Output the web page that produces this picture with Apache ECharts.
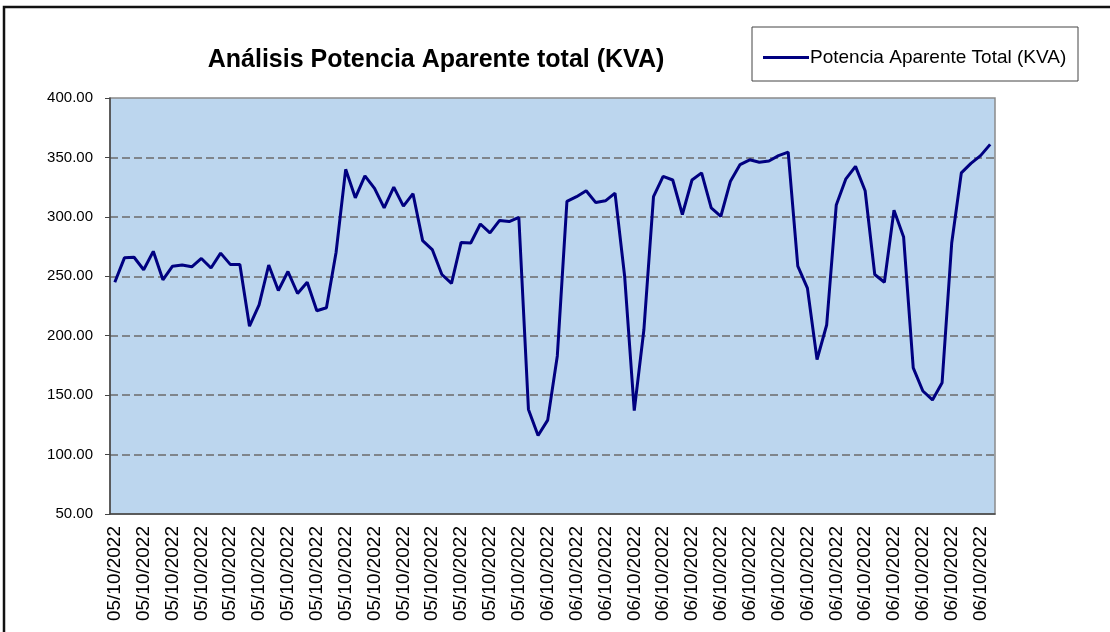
<!DOCTYPE html>
<html>
<head>
<meta charset="utf-8">
<script src="https://cdn.jsdelivr.net/npm/echarts@6/dist/echarts.min.js"></script>
<style>
  html, body { margin: 0; padding: 0; background: #fff; }
  #main { width: 1110px; height: 632px; }
</style>
</head>
<body>
<div id="main"></div>
<script>
// categorias (fecha de cada medida)
var dias = [];
for (var i = 0; i < 45; i++) dias.push('05/10/2022');
for (var j = 0; j < 47; j++) dias.push('06/10/2022');

// potencia aparente total (KVA)
var potencia = [
  245, 265.5, 266, 255.5, 271, 247, 258.5, 259.5, 258, 265,
  257, 269.5, 260, 260, 208, 226, 259.5, 238, 254, 235.5,
  245, 221, 223.5, 270, 340, 316, 334.5, 324, 307.5, 325,
  309, 319.5, 280, 272.5, 251.5, 244, 278.5, 278, 294, 286.5,
  297, 296, 299.5, 138, 116, 129, 183, 313, 317, 322,
  312, 313.5, 320, 250, 137, 205, 317, 334, 331, 302,
  331, 337, 307.5, 300.5, 330, 344, 348, 346, 347, 351.5,
  354.5, 258.5, 240, 180, 209, 310, 332, 342.5, 322, 251.5,
  245, 305.5, 283, 173, 153.5, 146, 160.5, 278, 337, 345,
  351.5, 361
];

var titulo = 'Análisis Potencia Aparente total (KVA)';
var serieNombre = 'Potencia Aparente Total (KVA)';
var fuente = '"Liberation Sans", Arial, sans-serif';

var chart = echarts.init(document.getElementById('main'));
var option = {
  animation: false,
  backgroundColor: '#fff',
  title: {
    text: titulo,
    left: 431,
    top: 43,
    textAlign: 'center',
    textStyle: { fontFamily: fuente, fontSize: 25, fontWeight: 'bold', color: '#000' }
  },
  legend: {
    data: [serieNombre],
    left: 758,
    top: 43,
    icon: 'rect',
    itemWidth: 46,
    itemHeight: 3,
    itemGap: 2,
    textStyle: { fontFamily: fuente, fontSize: 19, color: '#000', padding: [0, 0, 0, -4] }
  },
  graphic: [
    { // marco exterior
      type: 'rect', silent: true, z: -1,
      shape: { x: 4, y: 7, width: 1130, height: 700 },
      style: { fill: 'none', stroke: '#111', lineWidth: 2.5 }
    },
    { // caja de la leyenda
      type: 'rect', silent: true,
      shape: { x: 752, y: 27, width: 326, height: 54 },
      style: { fill: 'none', stroke: '#444', lineWidth: 1 }
    }
  ],
  grid: {
    left: 110, right: 115, top: 98, bottom: 118,
    show: true,
    backgroundColor: '#bcd6ee',
    borderColor: '#8a8a8a',
    borderWidth: 1.5
  },
  xAxis: {
    type: 'category',
    data: dias,
    boundaryGap: true,
    axisLine: { lineStyle: { color: '#444', width: 1.5 } },
    axisTick: { interval: 0, length: 5, lineStyle: { color: '#444' } },
    axisLabel: {
      interval: 2,
      rotate: 90,
      margin: 12,
      fontFamily: fuente,
      fontSize: 19,
      color: '#000'
    },
    splitLine: { show: false }
  },
  yAxis: {
    type: 'value',
    min: 50,
    max: 400,
    interval: 50,
    axisLine: { show: true, lineStyle: { color: '#444', width: 1.5 } },
    axisTick: { show: true, length: 5, lineStyle: { color: '#444' } },
    axisLabel: {
      margin: 17,
      fontFamily: fuente,
      fontSize: 15,
      color: '#000',
      formatter: function (v) { return v.toFixed(2); }
    },
    splitLine: {
      show: true,
      lineStyle: {
        // sin linea en 50 y 400 (ejes / borde)
        color: ['transparent', '#6b6b6b', '#6b6b6b', '#6b6b6b', '#6b6b6b', '#6b6b6b', '#6b6b6b', 'transparent'],
        width: 1.5,
        type: [8, 4]
      }
    }
  },
  series: [{
    name: serieNombre,
    type: 'line',
    data: potencia,
    symbol: 'none',
    smooth: false,
    lineStyle: { color: '#000080', width: 3 },
    itemStyle: { color: '#000080' }
  }]
};
chart.setOption(option);
</script>
</body>
</html>
